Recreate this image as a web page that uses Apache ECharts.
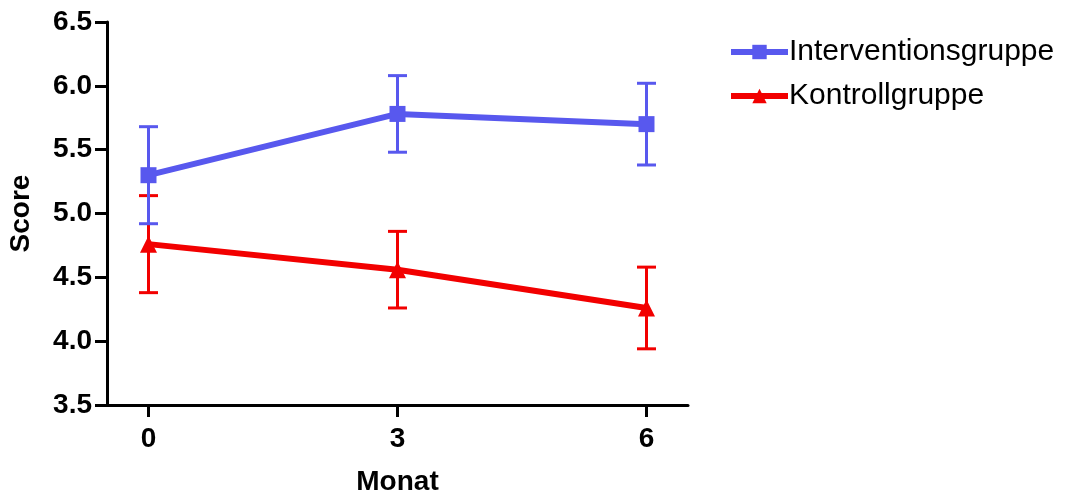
<!DOCTYPE html>
<html>
<head>
<meta charset="utf-8">
<script src="https://cdn.jsdelivr.net/npm/echarts@6/dist/echarts.min.js"></script>
<style>
	html, body { margin: 0; padding: 0; background: #fff; }
	#chart { width: 1068px; height: 496px; }
</style>
</head>
<body>
<div id="chart"></div>
<script>
var months = [ 0, 3, 6 ];
var interventionMean = [ 5.30, 5.78, 5.70 ];
var interventionErr = [ 0.38, 0.30, 0.32 ];
var kontrollMean = [ 4.76, 4.56, 4.26 ];
var kontrollErr = [ 0.38, 0.30, 0.32 ];

var blue = '#5858ee';
var red = '#f20000';
var font = '"Liberation Sans", Arial, Helvetica, sans-serif';

function pairs(means) {
	return months.map(function(m, i) { return [ m, means[i] ]; });
}

function errorData(means, errs) {
	return months.map(function(m, i) { return [ m, means[i] - errs[i], means[i] + errs[i] ]; });
}

function errorBar(color) {
	return function(params, api) {
		var lo = api.coord([ api.value(0), api.value(1) ]);
		var hi = api.coord([ api.value(0), api.value(2) ]);
		var half = 9.5;
		var style = { stroke: color, lineWidth: 3 };
		return {
			type: 'group',
			children: [
				{ type: 'line', shape: { x1: hi[0], y1: hi[1], x2: lo[0], y2: lo[1] }, style: style },
				{ type: 'line', shape: { x1: hi[0] - half, y1: hi[1], x2: hi[0] + half, y2: hi[1] }, style: style },
				{ type: 'line', shape: { x1: lo[0] - half, y1: lo[1], x2: lo[0] + half, y2: lo[1] }, style: style }
			]
		};
	};
}

var chart = echarts.init(document.getElementById('chart'));
chart.setOption({
	animation: false,
	grid: { left: 107, right: 380, top: 22, bottom: 91, outerBoundsMode: 'none', containLabel: false },
	legend: {
		left: 723,
		top: 32,
		orient: 'vertical',
		itemWidth: 57,
		itemHeight: 18,
		itemGap: 14,
		lineStyle: { width: 6 },
		textStyle: { fontFamily: font, fontSize: 30, color: '#000', padding: [ 0, 0, 0, -4 ] },
		data: [ 'Interventionsgruppe', 'Kontrollgruppe' ]
	},
	xAxis: {
		type: 'value',
		min: -0.5,
		max: 6.5,
		name: 'Monat',
		nameLocation: 'middle',
		nameGap: 63,
		nameTextStyle: { fontFamily: font, fontSize: 28, fontWeight: 'bold', color: '#000' },
		splitLine: { show: false },
		axisLine: { onZero: false, lineStyle: { color: '#000', width: 3 } },
		axisTick: { customValues: months, length: 12, lineStyle: { color: '#000', width: 3 } },
		axisLabel: { customValues: months, margin: 20, fontFamily: font, fontSize: 28, fontWeight: 'bold', color: '#000' }
	},
	yAxis: {
		type: 'value',
		min: 3.5,
		max: 6.5,
		interval: 0.5,
		name: 'Score',
		nameLocation: 'middle',
		nameGap: 72,
		nameRotate: 90,
		nameTextStyle: { fontFamily: font, fontSize: 28, fontWeight: 'bold', color: '#000' },
		splitLine: { show: false },
		axisLine: { show: true, onZero: false, lineStyle: { color: '#000', width: 3 } },
		axisTick: { show: true, length: 12, lineStyle: { color: '#000', width: 3 } },
		axisLabel: {
			margin: 15,
			fontFamily: font, fontSize: 28, fontWeight: 'bold', color: '#000',
			formatter: function(v) { return v.toFixed(1); }
		}
	},
	series: [ {
		name: 'Interventionsgruppe',
		type: 'line',
		data: pairs(interventionMean),
		symbol: 'rect',
		symbolSize: 16,
		color: blue,
		lineStyle: { color: blue, width: 6 },
		itemStyle: { color: blue },
		z: 4
	}, {
		name: 'Kontrollgruppe',
		type: 'line',
		data: pairs(kontrollMean),
		symbol: 'triangle',
		symbolSize: 17,
		color: red,
		lineStyle: { color: red, width: 6 },
		itemStyle: { color: red },
		z: 3
	}, {
		name: 'Kontrollgruppe',
		type: 'custom',
		renderItem: errorBar(red),
		itemStyle: { color: red },
		data: errorData(kontrollMean, kontrollErr),
		z: 1
	}, {
		name: 'Interventionsgruppe',
		type: 'custom',
		renderItem: errorBar(blue),
		itemStyle: { color: blue },
		data: errorData(interventionMean, interventionErr),
		z: 1
	} ]
});
</script>
</body>
</html>
